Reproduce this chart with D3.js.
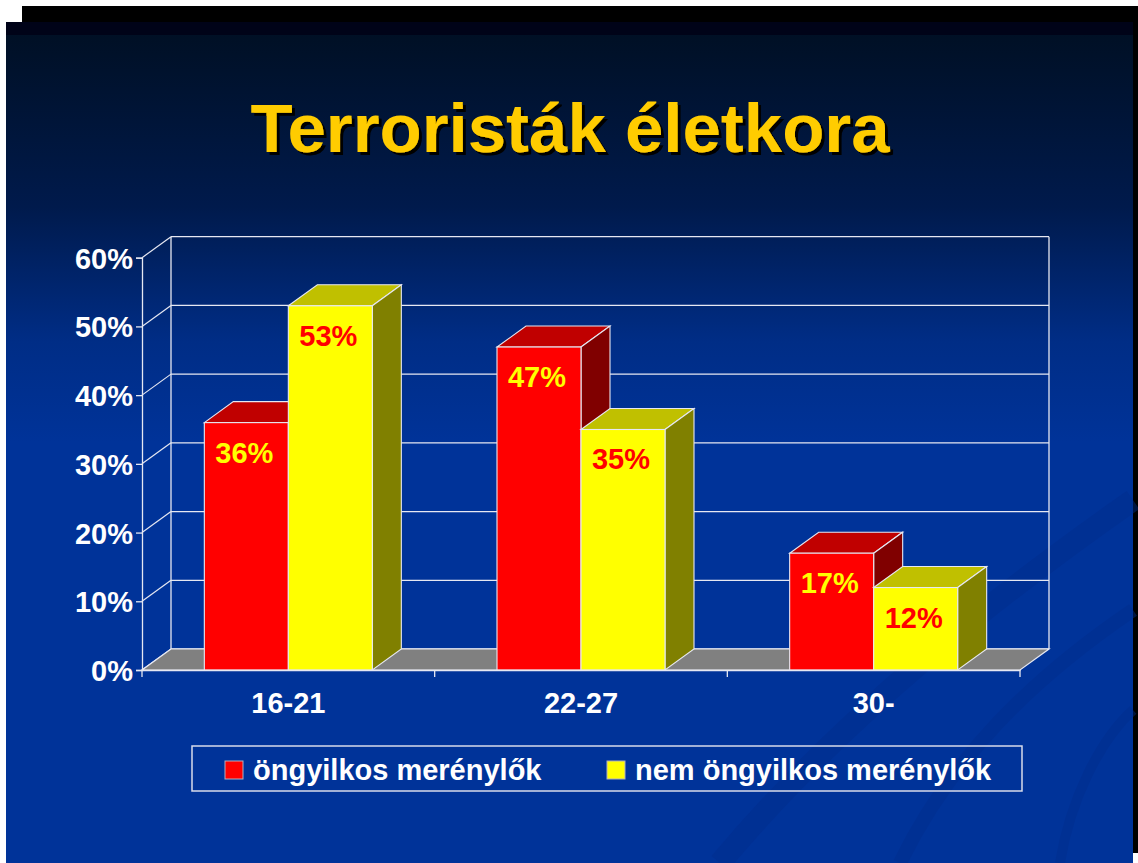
<!DOCTYPE html>
<html>
<head>
<meta charset="utf-8">
<script src="https://cdn.jsdelivr.net/npm/d3@7"></script>
<style>
  html, body { margin: 0; padding: 0; background: #ffffff; }
  svg { display: block; }
</style>
</head>
<body>
<div id="chart"></div>
<script>
// Data
const categories = ["16-21", "22-27", "30-"];
const seriesNames = ["öngyilkos merénylők", "nem öngyilkos merénylők"];
const suicideValues = [0.36, 0.47, 0.17];
const nonSuicideValues = [0.53, 0.35, 0.12];
const yTicks = [0, 0.1, 0.2, 0.3, 0.4, 0.5, 0.6];

const W = 1138, H = 863;
const font = "'Liberation Sans', Arial, Helvetica, sans-serif";

const svg = d3.select("#chart").append("svg")
    .attr("width", W)
    .attr("height", H);

const defs = svg.append("defs");
const bg = defs.append("linearGradient")
    .attr("id", "bg").attr("x1", 0).attr("y1", 0).attr("x2", 0).attr("y2", 1);
bg.append("stop").attr("offset", "0").attr("stop-color", "#000f22");
bg.append("stop").attr("offset", "0.22").attr("stop-color", "#001a4c");
bg.append("stop").attr("offset", "0.38").attr("stop-color", "#002d86");
bg.append("stop").attr("offset", "0.5").attr("stop-color", "#003399");
bg.append("stop").attr("offset", "1").attr("stop-color", "#003399");

const shadow = defs.append("filter").attr("id", "shadow")
    .attr("x", "-5%").attr("y", "-10%").attr("width", "110%").attr("height", "130%");
shadow.append("feDropShadow")
    .attr("dx", 3).attr("dy", 3).attr("stdDeviation", 0.6)
    .attr("flood-color", "#000000").attr("flood-opacity", 1);

/// Slide frame with drop shadow
svg.append("rect").attr("x", 22).attr("y", 6).attr("width", W - 22).attr("height", 847).attr("fill", "#000");
svg.append("rect").attr("x", 6).attr("y", 22).attr("width", 1127).attr("height", H - 22).attr("fill", "url(#bg)");
svg.append("rect").attr("x", 6).attr("y", 22).attr("width", 1127).attr("height", 13).attr("fill", "#000318");

// faint swoosh decoration, lower right
const deco = svg.append("g").attr("fill", "none").attr("stroke", "#002d8c").attr("opacity", 0.45);
deco.append("path").attr("d", "M720,863 C840,720 990,600 1133,500").attr("stroke-width", 22);
deco.append("path").attr("d", "M900,863 C950,760 1030,680 1133,610").attr("stroke-width", 14);
deco.append("path").attr("d", "M1060,863 C1070,800 1100,740 1133,710").attr("stroke-width", 10);

// Title
svg.append("text")
    .attr("x", 570).attr("y", 152)
    .attr("text-anchor", "middle")
    .style("font-family", font).style("font-weight", "bold").style("font-size", "69px")
    .attr("fill", "#ffcc00")
    .attr("filter", "url(#shadow)")
    .text("Terroristák életkora");

/// Chart geometry
const plotLeft = 142, plotRight = 1020, plotBottom = 670, plotTop = 257.7;
const dx = 29, dy = -21;
const lineCol = "#e6e8f2";

const x = d3.scaleBand().domain(categories).range([plotLeft, plotRight]).padding(0);
const x1 = d3.scaleBand().domain(seriesNames).range([0, x.bandwidth()]).paddingInner(0).paddingOuter(0.742);
const y = d3.scaleLinear().domain([0, 0.6]).range([plotBottom, plotTop]);

const chart = svg.append("g");

// Back wall gridlines + side wall diagonals
chart.selectAll(".grid")
    .data(yTicks)
    .join("line")
    .attr("x1", plotLeft + dx).attr("x2", plotRight + dx)
    .attr("y1", d => y(d) + dy).attr("y2", d => y(d) + dy)
    .attr("stroke", lineCol).attr("stroke-width", 1.3);

chart.selectAll(".diag")
    .data(yTicks)
    .join("line")
    .attr("x1", plotLeft).attr("x2", plotLeft + dx)
    .attr("y1", d => y(d)).attr("y2", d => y(d) + dy)
    .attr("stroke", lineCol).attr("stroke-width", 1.2);

chart.append("line")
    .attr("x1", plotLeft + dx).attr("x2", plotLeft + dx)
    .attr("y1", y(0.6) + dy).attr("y2", y(0) + dy)
    .attr("stroke", lineCol).attr("stroke-width", 1.3);
chart.append("line")
    .attr("x1", plotRight + dx).attr("x2", plotRight + dx)
    .attr("y1", y(0.6) + dy).attr("y2", y(0) + dy)
    .attr("stroke", lineCol).attr("stroke-width", 1.3);

// Floor
chart.append("polygon")
    .attr("points", [[plotLeft, plotBottom], [plotRight, plotBottom], [plotRight + dx, plotBottom + dy], [plotLeft + dx, plotBottom + dy]].map(p => p.join(",")).join(" "))
    .attr("fill", "#808080")
    .attr("stroke", lineCol).attr("stroke-width", 1.2);

// Bars
const palette = [
    { front: "#ff0000", top: "#c00000", side: "#800000", label: "#ffff00" },
    { front: "#ffff00", top: "#c0c000", side: "#808000", label: "#ff0000" }
];
const seriesValues = [suicideValues, nonSuicideValues];

const bars = [];
categories.forEach((c, ci) => {
    seriesNames.forEach((s, si) => {
        bars.push({ cat: c, series: s, si: si, value: seriesValues[si][ci] });
    });
});

const barG = chart.selectAll(".bar")
    .data(bars)
    .join("g")
    .attr("class", "bar");

const pts = arr => arr.map(p => p.join(",")).join(" ");

barG.each(function(d) {
    const g = d3.select(this);
    const x0 = x(d.cat) + x1(d.series);
    const xw = x0 + x1.bandwidth();
    const yt = y(d.value);
    const col = palette[d.si];
    g.append("polygon")
        .attr("points", pts([[x0, yt], [xw, yt], [xw + dx, yt + dy], [x0 + dx, yt + dy]]))
        .attr("fill", col.top).attr("stroke", lineCol).attr("stroke-width", 1.1);
    g.append("polygon")
        .attr("points", pts([[xw, yt], [xw + dx, yt + dy], [xw + dx, plotBottom + dy], [xw, plotBottom]]))
        .attr("fill", col.side).attr("stroke", lineCol).attr("stroke-width", 1.1);
    g.append("rect")
        .attr("x", x0).attr("y", yt)
        .attr("width", x1.bandwidth()).attr("height", plotBottom - yt)
        .attr("fill", col.front).attr("stroke", lineCol).attr("stroke-width", 1.1);
    g.append("text")
        .attr("x", x0 + x1.bandwidth() / 2 - 2)
        .attr("y", yt + 40)
        .attr("text-anchor", "middle")
        .style("font-family", font).style("font-weight", "bold").style("font-size", "29px")
        .attr("fill", col.label)
        .text(Math.round(d.value * 100) + "%");
});

// Y axis
const gy = svg.append("g")
    .attr("transform", `translate(${plotLeft},0)`)
    .call(d3.axisLeft(y).tickValues(yTicks).tickFormat(d3.format(".0%")).tickSizeOuter(0).tickSize(6).tickPadding(3));
gy.select(".domain").attr("stroke", lineCol).attr("stroke-width", 1.3);
gy.selectAll(".tick line").attr("stroke", lineCol).attr("stroke-width", 1.3);
gy.selectAll("text")
    .attr("dy", "0.36em")
    .style("font-family", font).style("font-weight", "bold").style("font-size", "29px")
    .attr("fill", "#ffffff");

// X axis
const gx = svg.append("g")
    .attr("transform", `translate(0,${plotBottom})`)
    .call(d3.axisBottom(x).tickSize(0).tickPadding(22).tickSizeOuter(0));
gx.select(".domain").attr("stroke", lineCol).attr("stroke-width", 1.3);
gx.selectAll("text")
    .attr("dy", "0.71em")
    .style("font-family", font).style("font-weight", "bold").style("font-size", "29px")
    .attr("fill", "#ffffff");
gx.selectAll(".sep")
    .data(d3.range(categories.length + 1))
    .join("line")
    .attr("x1", i => plotLeft + i * x.step()).attr("x2", i => plotLeft + i * x.step())
    .attr("y1", 0).attr("y2", 7)
    .attr("stroke", lineCol).attr("stroke-width", 1.3);

/// Legend
const legend = svg.append("g");
legend.append("rect")
    .attr("x", 192).attr("y", 746).attr("width", 830).attr("height", 45)
    .attr("fill", "none").attr("stroke", "#d8dcea").attr("stroke-width", 1.5);

const legendX = [225, 607];
const li = legend.selectAll(".li")
    .data(seriesNames)
    .join("g")
    .attr("transform", (d, i) => `translate(${legendX[i]},761)`);
li.append("rect")
    .attr("width", 18).attr("height", 18)
    .attr("fill", (d, i) => palette[i].front)
    .attr("stroke", "#b0b0c0").attr("stroke-width", 1);
li.append("text")
    .attr("x", 28).attr("y", 19)
    .style("font-family", font).style("font-weight", "bold").style("font-size", "29px")
    .attr("fill", "#ffffff")
    .text(d => d);
</script>
</body>
</html>
